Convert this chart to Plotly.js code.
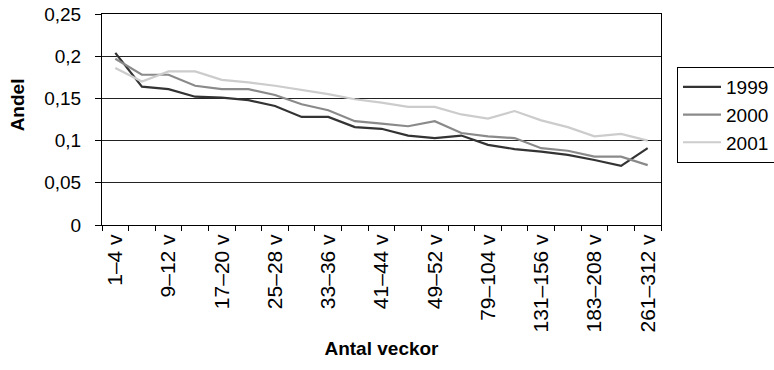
<!DOCTYPE html>
<html>
<head>
<meta charset="utf-8">
<script src="https://cdn.plot.ly/plotly-3.0.1.min.js"></script>
<style>
  html, body { margin: 0; padding: 0; background: #fff; }
  #chart { width: 774px; height: 370px; }
</style>
</head>
<body>
<div id="chart"></div>
<script>
// Duration bands (weeks)
const categories = [
  '1–4 v', '5–8 v', '9–12 v', '13–16 v', '17–20 v', '21–24 v', '25–28 v',
  '29–32 v', '33–36 v', '37–40 v', '41–44 v', '45–48 v', '49–52 v',
  '53–78 v', '79–104 v', '105–130 v', '131–156 v', '157–182 v',
  '183–208 v', '209–260 v', '261–312 v'
];

// Share per band, one series per year
const y1999 = [0.204, 0.164, 0.161, 0.152, 0.151, 0.148, 0.141, 0.128, 0.128, 0.116, 0.114,
               0.106, 0.103, 0.106, 0.095, 0.090, 0.087, 0.083, 0.077, 0.070, 0.091];
const y2000 = [0.197, 0.178, 0.178, 0.165, 0.161, 0.161, 0.154, 0.143, 0.136, 0.123, 0.120,
               0.117, 0.123, 0.109, 0.105, 0.103, 0.091, 0.088, 0.081, 0.081, 0.071];
const y2001 = [0.186, 0.170, 0.182, 0.182, 0.172, 0.169, 0.165, 0.160, 0.155, 0.149, 0.145,
               0.140, 0.140, 0.131, 0.126, 0.135, 0.124, 0.116, 0.105, 0.108, 0.100];

const seriesNames = ['1999', '2000', '2001'];
const yTicks = [0, 0.05, 0.1, 0.15, 0.2, 0.25];
const yTickText = ['0', '0,05', '0,1', '0,15', '0,2', '0,25'];

// Every other band gets a label
const xIdx = categories.map((_, i) => i);
const labelIdx = xIdx.filter(i => i % 2 === 0);
const labelText = labelIdx.map(i => categories[i]);

const colors = ['#333333', '#8a8a8a', '#cccccc'];
const seriesData = [y1999, y2000, y2001];

const traces = seriesData.map((ys, k) => ({
  type: 'scatter',
  mode: 'lines',
  name: seriesNames[k],
  x: xIdx,
  y: ys,
  line: { color: colors[k], width: 2.2 },
  hoverinfo: 'skip'
}));

const family = '"Liberation Sans", Arial, sans-serif';
const font = { family: family, size: 19, color: '#000' };
const xTickFont = { family: family, size: 21, color: '#000' };
const boldFont = { family: family, size: 19, color: '#000', weight: 'bold' };

const layout = {
  width: 774,
  height: 370,
  margin: { l: 102, r: 113, t: 14, b: 145, autoexpand: false },
  paper_bgcolor: '#fff',
  plot_bgcolor: '#fff',
  font: font,
  showlegend: true,
  legend: {
    xref: 'container', yref: 'container',
    x: 677 / 774, y: 1 - 67 / 370, xanchor: 'left', yanchor: 'top',
    bordercolor: '#000', borderwidth: 1, bgcolor: '#fff',
    itemwidth: 38,
    font: font
  },
  xaxis: {
    range: [-0.5, categories.length - 0.5],
    tickmode: 'array',
    tickvals: labelIdx,
    ticktext: labelText,
    tickangle: -90,
    ticks: '',
    minor: { tickmode: 'linear', tick0: -0.5, dtick: 1, ticks: 'outside', ticklen: 5, tickcolor: '#000', tickwidth: 1, showgrid: false },
    showgrid: false,
    zeroline: false,
    showline: true, linecolor: '#000', linewidth: 1, mirror: true,
    tickfont: xTickFont,
    title: { text: 'Antal veckor', font: boldFont, standoff: 10 },
    fixedrange: true
  },
  yaxis: {
    range: [0, 0.25],
    tickmode: 'array',
    tickvals: yTicks,
    ticktext: yTickText,
    ticks: 'outside', ticklen: 6, tickcolor: '#000', tickwidth: 1,
    ticklabelstandoff: 10,
    showgrid: true, gridcolor: '#222', gridwidth: 1,
    zeroline: false,
    showline: true, linecolor: '#000', linewidth: 1, mirror: true,
    tickfont: font,
    fixedrange: true
  },
  annotations: [{
    text: '<b>Andel</b>',
    font: boldFont,
    textangle: -90,
    xref: 'paper', yref: 'paper',
    x: -0.1495, y: 0.569,
    xanchor: 'center', yanchor: 'middle',
    showarrow: false
  }]
};

Plotly.newPlot('chart', traces, layout, { staticPlot: true, displayModeBar: false });
</script>
</body>
</html>
